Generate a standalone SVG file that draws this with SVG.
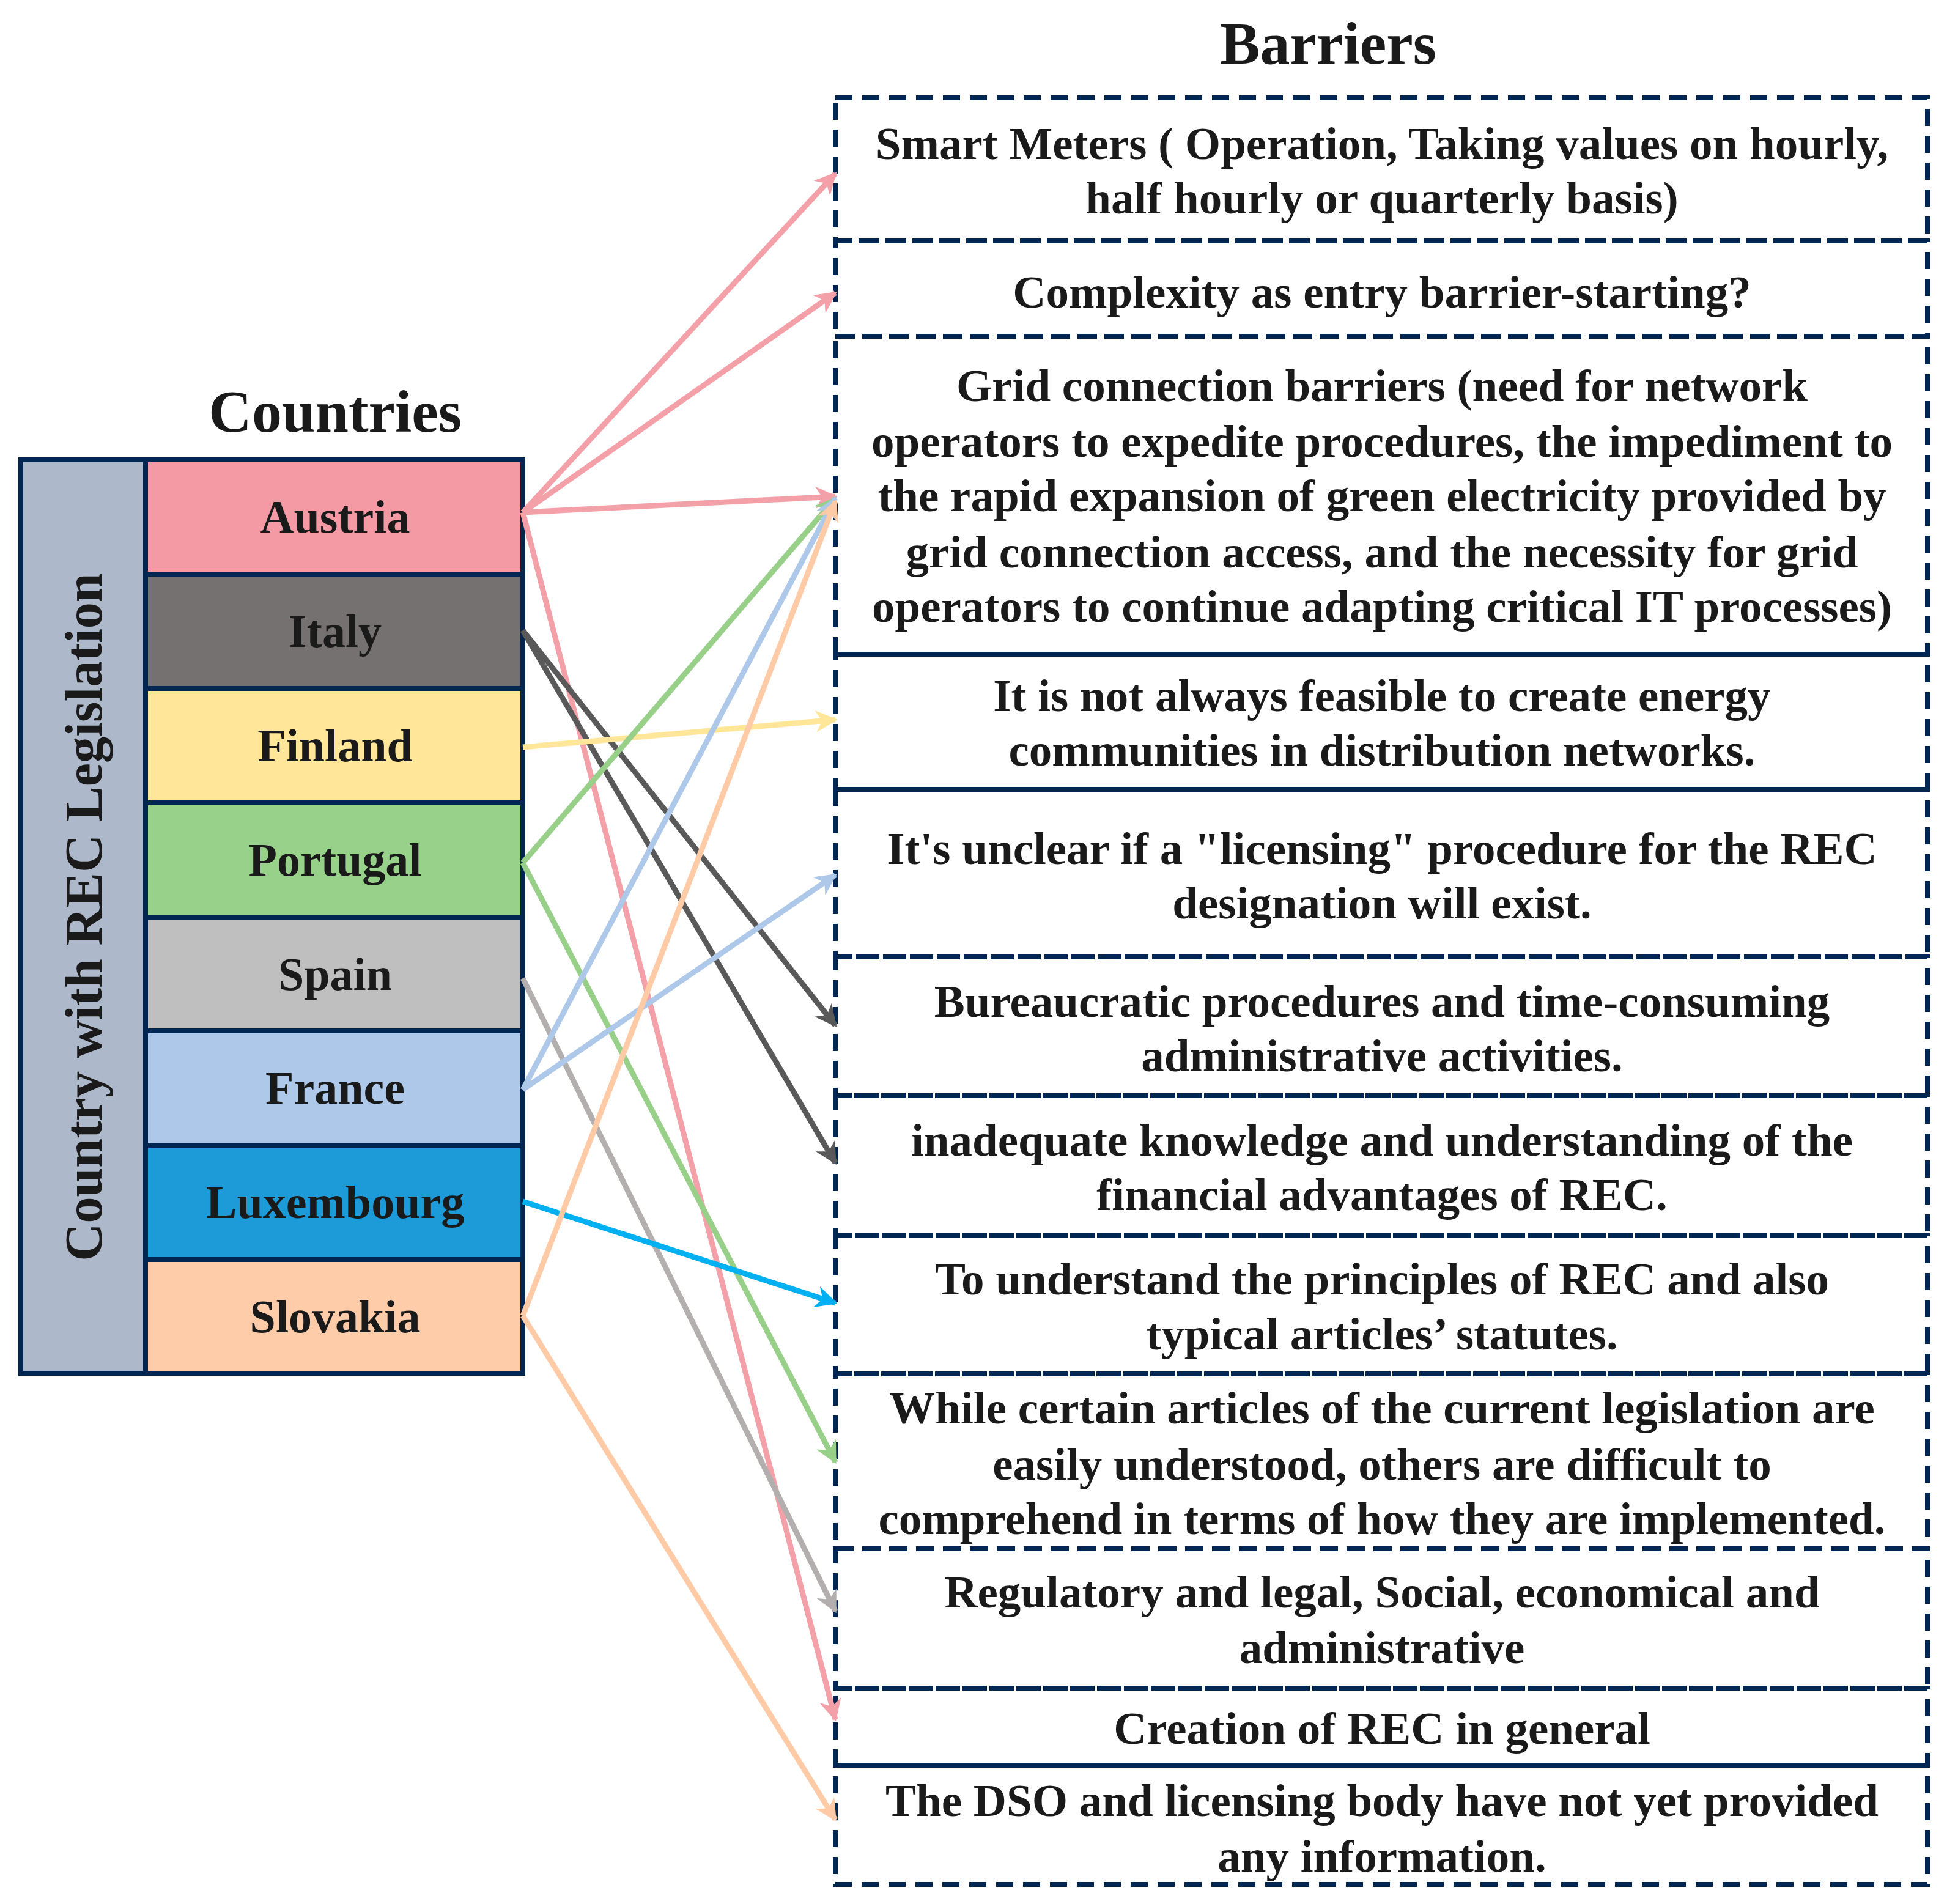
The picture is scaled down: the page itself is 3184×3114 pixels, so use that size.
<svg xmlns="http://www.w3.org/2000/svg" width="3184" height="3114" viewBox="0 0 3184 3114">
<style>
.t{font-family:"Liberation Serif","Times New Roman",serif;font-weight:bold;fill:#1a1a1a;text-anchor:middle}
.c{font-size:76px}
.v{font-size:86px}
.b{font-size:75px}
.h{font-size:98px}
.row{stroke:#002651;stroke-width:8}
.box{fill:none;stroke:#002651;stroke-width:8;stroke-dasharray:28 16}
.a{fill:none;stroke-width:9}
</style>
<defs>
<marker id="mA" viewBox="0 0 10 10" refX="9" refY="5" markerWidth="4" markerHeight="4" orient="auto" markerUnits="strokeWidth"><path d="M0,0 L10,5 L0,10 L3,5 Z" fill="#F4A0A8"/></marker>
<marker id="mI" viewBox="0 0 10 10" refX="9" refY="5" markerWidth="4" markerHeight="4" orient="auto" markerUnits="strokeWidth"><path d="M0,0 L10,5 L0,10 L3,5 Z" fill="#595959"/></marker>
<marker id="mF" viewBox="0 0 10 10" refX="9" refY="5" markerWidth="4" markerHeight="4" orient="auto" markerUnits="strokeWidth"><path d="M0,0 L10,5 L0,10 L3,5 Z" fill="#FFE699"/></marker>
<marker id="mP" viewBox="0 0 10 10" refX="9" refY="5" markerWidth="4" markerHeight="4" orient="auto" markerUnits="strokeWidth"><path d="M0,0 L10,5 L0,10 L3,5 Z" fill="#98D08A"/></marker>
<marker id="mS" viewBox="0 0 10 10" refX="9" refY="5" markerWidth="4" markerHeight="4" orient="auto" markerUnits="strokeWidth"><path d="M0,0 L10,5 L0,10 L3,5 Z" fill="#B3AFAF"/></marker>
<marker id="mR" viewBox="0 0 10 10" refX="9" refY="5" markerWidth="4" markerHeight="4" orient="auto" markerUnits="strokeWidth"><path d="M0,0 L10,5 L0,10 L3,5 Z" fill="#ADC8E9"/></marker>
<marker id="mL" viewBox="0 0 10 10" refX="9" refY="5" markerWidth="4" markerHeight="4" orient="auto" markerUnits="strokeWidth"><path d="M0,0 L10,5 L0,10 L3,5 Z" fill="#00B0F0"/></marker>
<marker id="mK" viewBox="0 0 10 10" refX="9" refY="5" markerWidth="4" markerHeight="4" orient="auto" markerUnits="strokeWidth"><path d="M0,0 L10,5 L0,10 L3,5 Z" fill="#FFCAA6"/></marker>
</defs>
<rect width="3184" height="3114" fill="#fff"/>
<text class="t h" x="548" y="706">Countries</text>
<text class="t h" x="2172" y="104">Barriers</text>
<g id="countries">
<rect x="34" y="752" width="204" height="1494" fill="#ADB9CA" class="row"/>
<text class="t v" transform="translate(166,1500) rotate(-90)">Country with REC Legislation</text>
<g id="austria"><rect x="238" y="752" width="617" height="187" fill="#F49AA4" class="row"/><text class="t c" x="548" y="871">Austria</text></g>
<g id="italy"><rect x="238" y="939" width="617" height="187" fill="#767171" class="row"/><text class="t c" x="548" y="1058">Italy</text></g>
<g id="finland"><rect x="238" y="1126" width="617" height="187" fill="#FFE699" class="row"/><text class="t c" x="548" y="1245">Finland</text></g>
<g id="portugal"><rect x="238" y="1313" width="617" height="187" fill="#97D18A" class="row"/><text class="t c" x="548" y="1432">Portugal</text></g>
<g id="spain"><rect x="238" y="1500" width="617" height="186" fill="#BFBFBF" class="row"/><text class="t c" x="548" y="1619">Spain</text></g>
<g id="france"><rect x="238" y="1686" width="617" height="187" fill="#ADC8E9" class="row"/><text class="t c" x="548" y="1805">France</text></g>
<g id="luxembourg"><rect x="238" y="1873" width="617" height="187" fill="#1D9BD8" class="row"/><text class="t c" x="548" y="1992">Luxembourg</text></g>
<g id="slovakia"><rect x="238" y="2060" width="617" height="186" fill="#FFCCAA" class="row"/><text class="t c" x="548" y="2179">Slovakia</text></g>
</g>
<g id="barriers">
<g id="b1"><rect class="box" x="1366" y="160" width="1786" height="234"/><text class="t b" x="2260" y="260">Smart Meters ( Operation, Taking values on hourly,</text><text class="t b" x="2260" y="349">half hourly or quarterly basis)</text></g>
<g id="b2"><rect class="box" x="1366" y="394" width="1786" height="156"/><text class="t b" x="2260" y="503">Complexity as entry barrier-starting?</text></g>
<g id="b3"><rect class="box" x="1366" y="550" width="1786" height="520"/><text class="t b" x="2260" y="656">Grid connection barriers (need for network</text><text class="t b" x="2260" y="747">operators to expedite procedures, the impediment to</text><text class="t b" x="2260" y="836">the rapid expansion of green electricity provided by</text><text class="t b" x="2260" y="928">grid connection access, and the necessity for grid</text><text class="t b" x="2260" y="1017">operators to continue adapting critical IT processes)</text></g>
<g id="b4"><rect class="box" x="1366" y="1070" width="1786" height="221"/><text class="t b" x="2260" y="1163">It is not always feasible to create energy</text><text class="t b" x="2260" y="1252">communities in distribution networks.</text></g>
<g id="b5"><rect class="box" x="1366" y="1291" width="1786" height="274"/><text class="t b" x="2260" y="1413">It's unclear if a "licensing" procedure for the REC</text><text class="t b" x="2260" y="1502">designation will exist.</text></g>
<g id="b6"><rect class="box" x="1366" y="1565" width="1786" height="227"/><text class="t b" x="2260" y="1663">Bureaucratic procedures and time-consuming</text><text class="t b" x="2260" y="1752">administrative activities.</text></g>
<g id="b7"><rect class="box" x="1366" y="1792" width="1786" height="228"/><text class="t b" x="2260" y="1890">inadequate knowledge and understanding of the</text><text class="t b" x="2260" y="1979">financial advantages of REC.</text></g>
<g id="b8"><rect class="box" x="1366" y="2020" width="1786" height="227"/><text class="t b" x="2260" y="2117">To understand the principles of REC and also</text><text class="t b" x="2260" y="2207">typical articles’ statutes.</text></g>
<g id="b9"><rect class="box" x="1366" y="2247" width="1786" height="286"/><text class="t b" x="2260" y="2328">While certain articles of the current legislation are</text><text class="t b" x="2260" y="2420">easily understood, others are difficult to</text><text class="t b" x="2260" y="2509">comprehend in terms of how they are implemented.</text></g>
<g id="b10"><rect class="box" x="1366" y="2533" width="1786" height="228"/><text class="t b" x="2260" y="2629">Regulatory and legal, Social, economical and</text><text class="t b" x="2260" y="2720">administrative</text></g>
<g id="b11"><rect class="box" x="1366" y="2761" width="1786" height="126"/><text class="t b" x="2260" y="2852">Creation of REC in general</text></g>
<g id="b12"><rect class="box" x="1366" y="2887" width="1786" height="195"/><text class="t b" x="2260" y="2970">The DSO and licensing body have not yet provided</text><text class="t b" x="2260" y="3061">any information.</text></g>
</g>
<g id="connectors">
<path class="a" stroke="#F4A0A8" marker-end="url(#mA)" d="M855,838 L1366,284"/>
<path class="a" stroke="#F4A0A8" marker-end="url(#mA)" d="M855,838 L1366,479"/>
<path class="a" stroke="#F4A0A8" marker-end="url(#mA)" d="M855,838 L1366,812"/>
<path class="a" stroke="#F4A0A8" marker-end="url(#mA)" d="M855,838 L1366,2812"/>
<path class="a" stroke="#595959" marker-end="url(#mI)" d="M855,1031 L1366,1677"/>
<path class="a" stroke="#595959" marker-end="url(#mI)" d="M855,1031 L1366,1902"/>
<path class="a" stroke="#FFE699" marker-end="url(#mF)" d="M855,1222 L1366,1177"/>
<path class="a" stroke="#98D08A" marker-end="url(#mP)" d="M855,1411 L1366,815"/>
<path class="a" stroke="#98D08A" marker-end="url(#mP)" d="M855,1411 L1366,2391"/>
<path class="a" stroke="#B3AFAF" marker-end="url(#mS)" d="M855,1600 L1366,2635"/>
<path class="a" stroke="#ADC8E9" marker-end="url(#mR)" d="M855,1782 L1366,815"/>
<path class="a" stroke="#ADC8E9" marker-end="url(#mR)" d="M855,1782 L1366,1431"/>
<path class="a" stroke="#00B0F0" marker-end="url(#mL)" d="M855,1965 L1366,2131"/>
<path class="a" stroke="#FFCAA6" marker-end="url(#mK)" d="M855,2152 L1366,820"/>
<path class="a" stroke="#FFCAA6" marker-end="url(#mK)" d="M855,2152 L1366,2976"/>
</g>
</svg>
